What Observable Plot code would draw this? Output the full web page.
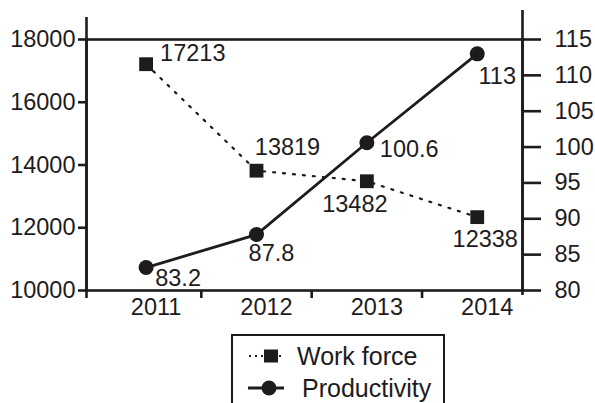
<!DOCTYPE html>
<html><head><meta charset="utf-8">
<script src="https://cdn.jsdelivr.net/npm/d3@7"></script>
<script src="https://cdn.jsdelivr.net/npm/@observablehq/plot@0.6"></script>
<style>
html,body{margin:0;padding:0;background:#fff;overflow:hidden;width:595px;height:403px;}
#wrap{position:relative;width:595px;height:403px;font-family:"Liberation Sans",Arial,sans-serif;color:#1e1b1c;}
#legend{position:absolute;left:231px;top:334px;width:214px;height:90px;border:2px solid #1e1b1c;box-sizing:border-box;}
.sym{position:absolute;left:14px;}
.lab{position:absolute;font-size:25px;line-height:30px;white-space:nowrap;}
</style></head>
<body><div id="wrap"><div id="chart"></div><div id="legend"></div></div>
<script>
const years = [2011, 2012, 2013, 2014];
const workForce = [17213, 13819, 13482, 12338];
const productivity = [83.2, 87.8, 100.6, 113];
const leftTicks = [10000, 12000, 14000, 16000, 18000];
const rightTicks = [80, 85, 90, 95, 100, 105, 110, 115];
const seriesNames = ["Work force", "Productivity"];

const ink = "#1e1b1c";
const font = "'Liberation Sans', Arial, sans-serif";
const fs = 23.5;
const leftDomain = [10000, 18000];
const rightDomain = [80, 115];
const k = (leftDomain[1] - leftDomain[0]) / (rightDomain[1] - rightDomain[0]);
const toLeft = v => leftDomain[0] + (v - rightDomain[0]) * k;
const fromLeft = v => rightDomain[0] + (v - leftDomain[0]) / k;
const xDomain = [2010.46, 2014.41];
const boundaries = years.slice(0, -1).map(y => y + 0.5);

const wf = years.map((year, i) => ({year, value: workForce[i]}));
const pr = years.map((year, i) => ({year, value: productivity[i], yl: toLeft(productivity[i])}));

// label layout (offsets relative to marker)
const wfLab = [{dx: 14, dy: -11, a: "start"}, {dx: 31, dy: -23, a: "middle"}, {dx: -12, dy: 23, a: "middle"}, {dx: 8, dy: 22, a: "middle"}];
const prLab = [{dx: 32, dy: 11, a: "middle"}, {dx: 15, dy: 19, a: "middle"}, {dx: 13, dy: 7, a: "start"}, {dx: 20, dy: 23, a: "middle"}];

const labelMarks = [];
wf.forEach((d, i) => labelMarks.push(Plot.text([d], {x: "year", y: "value", text: d => String(d.value), dx: wfLab[i].dx, dy: wfLab[i].dy, textAnchor: wfLab[i].a, fontSize: fs, fontFamily: font, fill: ink})));
pr.forEach((d, i) => labelMarks.push(Plot.text([d], {x: "year", y: "yl", text: d => String(d.value), dx: prLab[i].dx, dy: prLab[i].dy, textAnchor: prLab[i].a, fontSize: fs, fontFamily: font, fill: ink})));

const chart = Plot.plot({
  width: 595, height: 330,
  marginTop: 39, marginBottom: 40, marginLeft: 86, marginRight: 73,
  style: {fontFamily: font, fontSize: fs + "px", color: ink, background: "white", overflow: "visible"},
  x: {domain: xDomain},
  y: {domain: leftDomain},
  marks: [
    Plot.line(wf, {x: "year", y: "value", stroke: ink, strokeWidth: 2.2, strokeDasharray: "2,8"}),
    Plot.line(pr, {x: "year", y: "yl", stroke: ink, strokeWidth: 2.8}),
    Plot.frame({stroke: ink, strokeWidth: 2.6}),
    Plot.ruleX([xDomain[0]], {stroke: ink, strokeWidth: 2.6, insetTop: -22, insetBottom: -8}),
    Plot.ruleX([xDomain[1]], {stroke: ink, strokeWidth: 2.6, insetTop: -29, insetBottom: -5}),
    Plot.axisY(leftTicks, {anchor: "left", tickSize: 8, tickPadding: 3, strokeWidth: 2.6, fontSize: fs, fontFamily: font, label: null, tickFormat: d => String(d), fill: ink}),
    Plot.axisY(rightTicks.map(toLeft), {anchor: "right", tickSize: 18, tickPadding: 14, strokeWidth: 2.6, fontSize: fs, fontFamily: font, label: null, tickFormat: d => String(Math.round(fromLeft(d))), fill: ink}),
    Plot.axisX(boundaries, {tickSize: 8, strokeWidth: 2.6, tickFormat: () => "", label: null}),
    Plot.axisX(years, {tickSize: 0, tickPadding: 8, dx: 10, fontSize: fs, fontFamily: font, tickFormat: d => String(d), label: null, fill: ink}),
    Plot.dot(wf, {x: "year", y: "value", symbol: "square", r: 7.8, fill: ink}),
    Plot.dot(pr, {x: "year", y: "yl", r: 7.5, fill: ink}),
    ...labelMarks
  ]
});
document.getElementById("chart").appendChild(chart);

// legend
const legend = document.getElementById("legend");
const rows = [
  {name: seriesNames[0], top: 6, textLeft: 64, svg: `<line x1="2" y1="14" x2="36" y2="14" stroke="${ink}" stroke-width="2" stroke-dasharray="2,4"/><rect x="17" y="7.5" width="14" height="13" fill="${ink}"/>`},
  {name: seriesNames[1], top: 38, textLeft: 69, svg: `<line x1="1" y1="14" x2="37" y2="14" stroke="${ink}" stroke-width="2.8"/><circle cx="22" cy="14" r="7.5" fill="${ink}"/>`}
];
rows.forEach(r => {
  const s = document.createElementNS("http://www.w3.org/2000/svg", "svg");
  s.setAttribute("width", 40); s.setAttribute("height", 28);
  s.setAttribute("class", "sym");
  s.style.top = (r.top) + "px";
  s.innerHTML = r.svg;
  legend.appendChild(s);
  const t = document.createElement("div");
  t.className = "lab";
  t.style.left = r.textLeft + "px";
  t.style.top = (r.top - 1) + "px";
  t.textContent = r.name;
  legend.appendChild(t);
});
</script>
</body></html>
